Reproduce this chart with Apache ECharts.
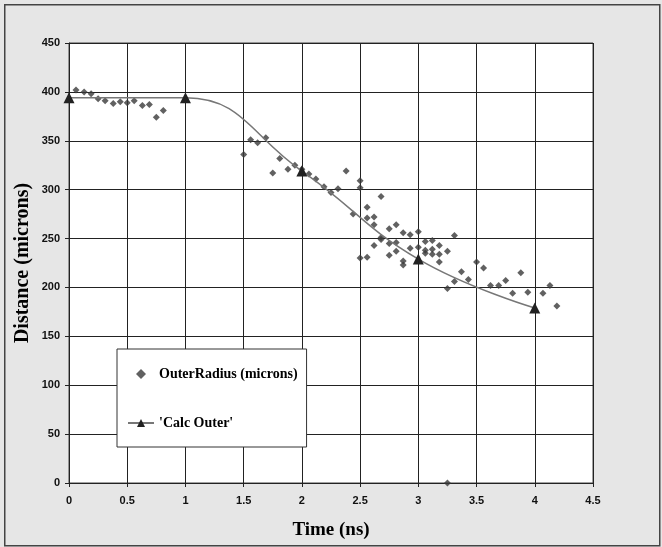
<!DOCTYPE html>
<html>
<head>
<meta charset="utf-8">
<script src="https://cdn.jsdelivr.net/npm/echarts@6/dist/echarts.min.js"></script>
<style>
html,body{margin:0;padding:0;background:#e6e6e6;}
#chart{width:662px;height:547px;}
</style>
</head>
<body>
<div id="chart"></div>
<script>
// Measured points: OuterRadius (microns)
const outerTime = [0.06,0.13,0.19,0.25,0.31,0.38,0.44,0.50,0.56,0.63,0.69,0.75,0.81,
  1.50,1.56,1.62,1.69,1.75,1.81,1.88,1.94,2.00,2.06,2.12,2.19,2.25,2.31,2.38,2.44,
  2.50,2.50,2.50,2.56,2.56,2.56,2.62,2.62,2.62,2.68,2.68,2.68,2.75,2.75,2.75,
  2.81,2.81,2.81,2.87,2.87,2.87,2.93,2.93,3.00,3.00,3.06,3.06,3.06,3.12,3.12,3.12,
  3.18,3.18,3.18,3.25,3.25,3.25,3.31,3.31,3.37,3.43,3.50,3.56,3.62,3.69,3.75,3.81,
  3.88,3.94,4.07,4.13,4.19];
const outerRadius = [402,400,398,393,391,388,390,389,391,386,387,374,381,
  336,351,348,353,317,332,321,325,321,316,311,303,297,301,319,275,
  309,302,230,282,271,231,272,264,243,293,251,249,260,245,233,
  264,246,237,256,227,223,254,240,257,241,247,238,235,248,239,234,
  243,234,226,237,199,0,253,206,216,208,226,220,202,202,207,194,
  215,195,194,202,181];

// Calculated curve: 'Calc Outer'
const calcTime = [0,1,2,3,4];
const calcOuter = [394,394,319,229,179];

const xTicks = {min:0, max:4.5, interval:0.5};
const yTicks = {min:0, max:450, interval:50};

const chart = echarts.init(document.getElementById('chart'));
const labelFont = {color:'#111', fontWeight:'bold', fontSize:11, fontFamily:'Liberation Sans, Arial, sans-serif'};
const titleFont = {color:'#000', fontWeight:'bold', fontSize:19, fontFamily:'Liberation Serif, Times New Roman, serif'};

chart.setOption({
  backgroundColor:'#e6e6e6',
  animation:false,
  graphic:[{
    type:'rect', left:4, top:4, z:-10,
    shape:{width:655, height:541},
    style:{fill:'#e6e6e6', stroke:'#444', lineWidth:1.5}
  }],
  grid:{left:69, top:43, width:524, height:440, show:true, backgroundColor:'#fff', borderColor:'#444', borderWidth:1},
  legend:{
    orient:'vertical', left:117, top:349,
    padding:[18,9,17,10], itemGap:35,
    itemWidth:26, itemHeight:10,
    backgroundColor:'#fff', borderColor:'#333', borderWidth:1,
    textStyle:{color:'#000', fontWeight:'bold', fontSize:14, fontFamily:'Liberation Serif, Times New Roman, serif'},
    data:[
      {name:'OuterRadius (microns)', icon:'path://M0,-1L1,0L0,1L-1,0Z'},
      {name:"'Calc Outer'"}
    ]
  },
  xAxis:{
    type:'value', min:xTicks.min, max:xTicks.max, interval:xTicks.interval,
    name:'Time (ns)', nameLocation:'middle', nameGap:38, nameTextStyle:titleFont,
    axisLine:{show:true, lineStyle:{color:'#222', width:1}},
    axisTick:{show:true, length:4, lineStyle:{color:'#222'}},
    axisLabel:Object.assign({margin:12}, labelFont),
    splitLine:{show:true, lineStyle:{color:'#222', width:1}}
  },
  yAxis:{
    type:'value', min:yTicks.min, max:yTicks.max, interval:yTicks.interval,
    name:'Distance (microns)', nameLocation:'middle', nameGap:36, nameMoveOverlap:false,
    nameTextStyle:Object.assign({}, titleFont, {fontSize:20}),
    axisLine:{show:true, lineStyle:{color:'#222', width:1}},
    axisTick:{show:true, length:4, lineStyle:{color:'#222'}},
    axisLabel:Object.assign({margin:9}, labelFont),
    splitLine:{show:true, lineStyle:{color:'#222', width:1}}
  },
  series:[
    {
      name:'OuterRadius (microns)', type:'scatter', symbol:'diamond', symbolSize:7,
      itemStyle:{color:'#3a3a3a'},
      data: outerTime.map((t,i)=>[t, outerRadius[i]]), z:3
    },
    {
      name:"'Calc Outer'", type:'line', smooth:0.45, symbol:'triangle', symbolSize:11,
      lineStyle:{color:'#777', width:1.5},
      itemStyle:{color:'#222'},
      data: calcTime.map((t,i)=>[t, calcOuter[i]]), z:4
    }
  ]
});
</script>
</body>
</html>
